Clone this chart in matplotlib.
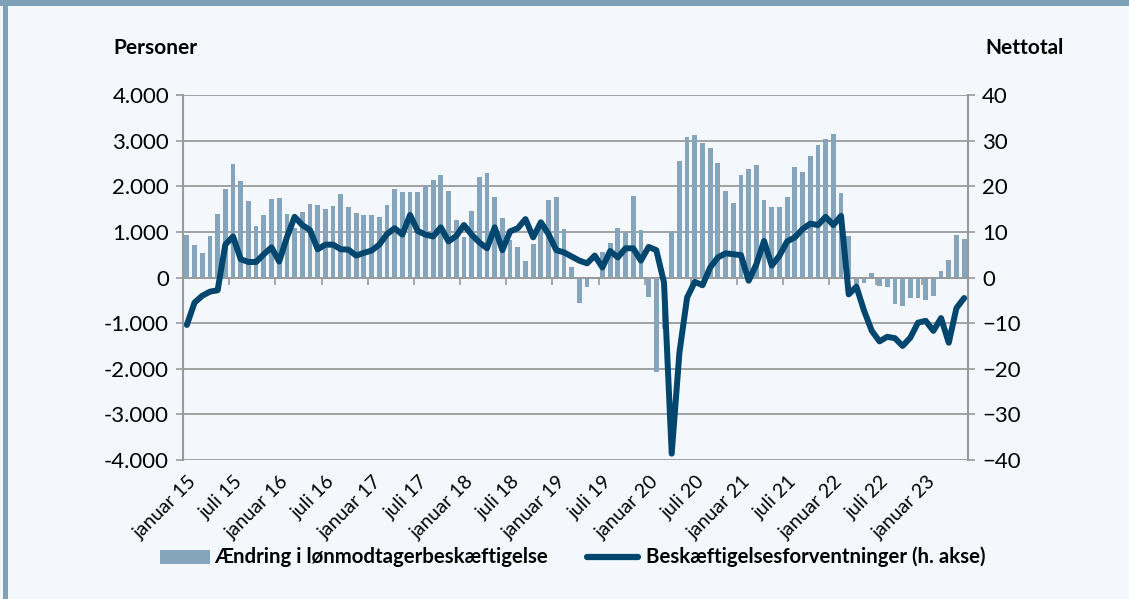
import matplotlib
matplotlib.use("Agg")
import matplotlib.pyplot as plt
from matplotlib.patches import Rectangle
from matplotlib.lines import Line2D
import matplotlib.transforms as mtrans
import numpy as np

plt.rcParams['font.family'] = ['Lato', 'DejaVu Sans']

# Monthly data, January 2015 - June 2023
bars = [936, 709, 534, 906, 1389, 1937, 2493, 2113, 1674, 1126, 1360, 1711,
        1732, 1389, 1089, 1425, 1601, 1586, 1499, 1564, 1820, 1535, 1404, 1374,
        1360, 1316, 1594, 1937, 1871, 1879, 1864, 2010, 2135, 2251, 1886, 1257,
        877, 1447, 2208, 2281, 1754, 1301, 819, 673, 351, 731, 1100, 1696,
        1754, 1067, 234, -563, -219, 20, 563, 746, 1082, 965, 1776, 1038,
        -424, -2069, -1133, 1023, 2544, 3070, 3129, 2946, 2836, 2515, 1886, 1623,
        2251, 2368, 2471, 1696, 1535, 1550, 1754, 2412, 2317, 2661, 2909, 3034,
        3136, 1849, 899, -132, -110, 95, -197, -219, -570, -621, -439, -439,
        -490, -402, 132, 387, 921, 840]
line = [-10.4, -5.5, -4.0, -3.1, -2.8, 7.2, 9.0, 4.0, 3.4, 3.4, 5.1, 6.6,
        3.5, 8.8, 13.3, 11.5, 10.4, 6.2, 7.2, 7.2, 6.2, 6.1, 4.8, 5.4,
        5.9, 7.2, 9.5, 10.8, 9.4, 13.7, 10.2, 9.4, 9.0, 11.0, 7.9, 9.1,
        11.5, 9.4, 7.7, 6.4, 11.0, 6.0, 10.1, 10.8, 12.8, 8.8, 12.1, 9.5,
        6.0, 5.5, 4.6, 3.7, 3.1, 4.8, 2.2, 5.8, 4.4, 6.4, 6.4, 3.7,
        6.7, 6.0, -1.1, -38.6, -16.5, -4.4, -0.95, -1.7, 2.2, 4.4, 5.3, 5.1,
        4.9, -0.7, 2.9, 8.0, 2.6, 4.8, 7.9, 8.8, 10.6, 11.8, 11.5, 13.3,
        11.5, 13.5, -3.7, -2.0, -7.3, -11.7, -14.0, -13.0, -13.3, -15.0, -13.2, -9.9,
        -9.5, -11.7, -8.9, -14.3, -6.7, -4.5]
tick_labels = ["januar 15", "juli 15", "januar 16", "juli 16", "januar 17", "juli 17",
               "januar 18", "juli 18", "januar 19", "juli 19", "januar 20", "juli 20",
               "januar 21", "juli 21", "januar 22", "juli 22", "januar 23"]
left_ticks = [-4000, -3000, -2000, -1000, 0, 1000, 2000, 3000, 4000]
right_ticks = [-40, -30, -20, -10, 0, 10, 20, 30, 40]
bar_name = "Ændring i lønmodtagerbeskæftigelse"
line_name = "Beskæftigelsesforventninger (h. akse)"

BG = '#f4f8fc'
BARC = '#84a5bb'
LINEC = '#00466e'
GRID = '#9a9a9a'
FRAME = '#7fa2b8'

W, H = 1129, 599
fig = plt.figure(figsize=(W / 100, H / 100), dpi=100, facecolor=BG)

# frame decorations
fig.patches.append(Rectangle((0, 1 - 6 / H), 1, 6 / H, transform=fig.transFigure,
                             facecolor=FRAME, edgecolor='none', zorder=0))
fig.patches.append(Rectangle((3 / W, 0), 4.5 / W, 1, transform=fig.transFigure,
                             facecolor=FRAME, edgecolor='none', zorder=0))

l, r, t, b = 183 / W, 968 / W, 95 / H, 460 / H
ax = fig.add_axes([l, 1 - b, r - l, b - t])
ax.set_facecolor(BG)
n = len(bars)
x = np.arange(n)

for v in left_ticks:
    ax.axhline(v, color=GRID, lw=1.3, zorder=0)

ax.bar(x, bars, width=0.62, color=BARC, zorder=2)
ax.set_xlim(-0.5, n - 0.5)
ax.set_ylim(-4000, 4000)
ax.set_yticks(left_ticks)
ax.set_yticklabels([f"{v:,}".replace(",", ".") for v in left_ticks])
ax.tick_params(axis='y', length=5, width=1.2, color=GRID, labelsize=16, pad=5,
               labelcolor='black')

for s in ['top', 'right']:
    ax.spines[s].set_visible(False)
ax.spines['left'].set_color(GRID)
ax.spines['left'].set_linewidth(1.5)
ax.spines['bottom'].set_position(('data', 0))
ax.spines['bottom'].set_color(GRID)
ax.spines['bottom'].set_linewidth(1.3)
ax.set_xticks(np.arange(5.5, n - 1, 6))
ax.set_xticklabels([])
ax.tick_params(axis='x', length=5, width=1.2, color=GRID, direction='out')

trans = mtrans.blended_transform_factory(ax.transData, ax.transAxes)
for k, lab in enumerate(tick_labels):
    ax.text(6 * k + 0.1, -0.035, lab, transform=trans, rotation=45,
            ha='right', va='top', rotation_mode='anchor', fontsize=14,
            color='black')

ax2 = ax.twinx()
ax2.plot(x, line, color=LINEC, lw=4.3, solid_joinstyle='round',
         solid_capstyle='round', zorder=3)
ax2.set_ylim(-40, 40)
ax2.set_yticks(right_ticks)
ax2.tick_params(axis='y', length=5, width=1.2, color=GRID, labelsize=16, pad=5,
                labelcolor='black')
for s in ['top', 'left', 'bottom']:
    ax2.spines[s].set_visible(False)
ax2.spines['right'].set_color(GRID)
ax2.spines['right'].set_linewidth(1.5)

fig.text(113 / W, 1 - 48 / H, "Personer", fontsize=15, fontweight='bold',
         ha='left', va='center')
fig.text(985 / W, 1 - 48 / H, "Nettotal", fontsize=15, fontweight='bold',
         ha='left', va='center')

# legend
ly = 1 - 557 / H
fig.patches.append(Rectangle((160 / W, ly - 7 / H), 50 / W, 14 / H,
                             transform=fig.transFigure, facecolor=BARC,
                             edgecolor='none'))
fig.text(214 / W, ly, bar_name, fontsize=14.7, fontweight='bold', ha='left',
         va='center')
fig.lines.append(Line2D([587 / W, 638 / W], [ly, ly], transform=fig.transFigure,
                        color=LINEC, lw=4.5, solid_capstyle='round'))
fig.text(646 / W, ly, line_name, fontsize=14.7, fontweight='bold', ha='left',
         va='center')

fig.savefig("out.png", dpi=100, facecolor=BG)
